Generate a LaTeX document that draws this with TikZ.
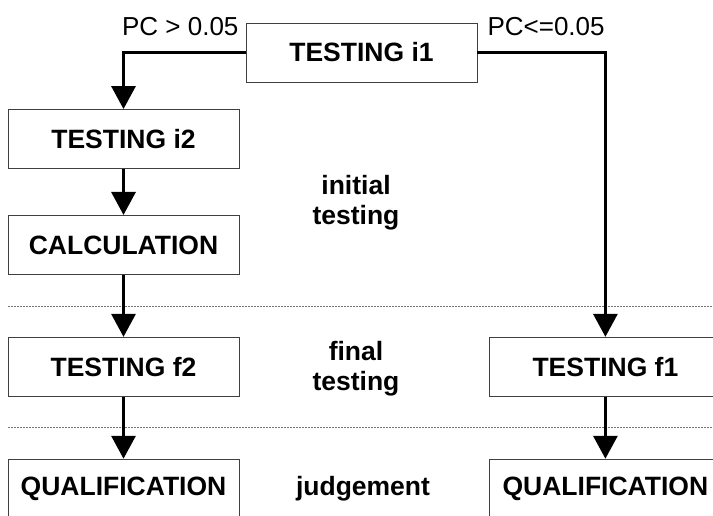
\documentclass[tikz,border=0pt]{standalone}
\usepackage{fontspec}
\setmainfont{Liberation Sans}
\usetikzlibrary{arrows.meta,positioning}

\begin{document}
\begin{tikzpicture}[x=1pt, y=-1pt,
    box/.style={draw=black!75, line width=0.9pt, minimum width=231pt, minimum height=59pt,
      inner sep=0pt, font=\fontsize{26.5}{30}\selectfont\bfseries},
    flow/.style={line width=3.2pt, -{Triangle[width=24pt,length=23pt]}},
    stage/.style={align=center, font=\fontsize{26.5}{30}\selectfont\bfseries},
    cond/.style={font=\fontsize{26}{30}\selectfont},
    sep/.style={black!55, line width=0.7pt, dash pattern=on 2pt off 1pt}]
    \clip (0,0) rectangle (713,515);

    % Nodes
    \node[box] (i1) at (361.5,52.5) {TESTING i1};
    \node[box] (i2) at (123.5,139) {TESTING i2};
    \node[box, below=46pt of i2] (calc) {CALCULATION};
    \node[box, below=62pt of calc] (f2) {TESTING f2};
    \node[box, below=62pt of f2] (q2) {QUALIFICATION};
    \node[box, right=250pt of f2] (f1) {TESTING f1};
    \node[box, below=62pt of f1] (q1) {QUALIFICATION};

    % Phase labels
    \node[stage] (init) at (356,203) {initial\\testing};
    \node[stage] (fin) at (356,369) {final\\testing};
    \node[stage, anchor=base] (judge) at (363,495) {judgement};

    % Branch conditions
    \node[cond, anchor=base east] (gt) at (242,35) {PC > 0.05};
    \node[cond, anchor=base west] (le) at (484,35) {PC<=0.05};

    % Phase boundaries
    \draw[sep] (8,306) -- (713,306);
    \draw[sep] (8,427) -- (713,427);

    % Edges
    \draw[flow] (i1.west) -| (i2.north);
    \draw[flow] (i1.east) -| (f1.north);
    \draw[flow] (i2) -- (calc);
    \draw[flow] (calc) -- (f2);
    \draw[flow] (f2) -- (q2);
    \draw[flow] (f1) -- (q1);
\end{tikzpicture}
\end{document}
